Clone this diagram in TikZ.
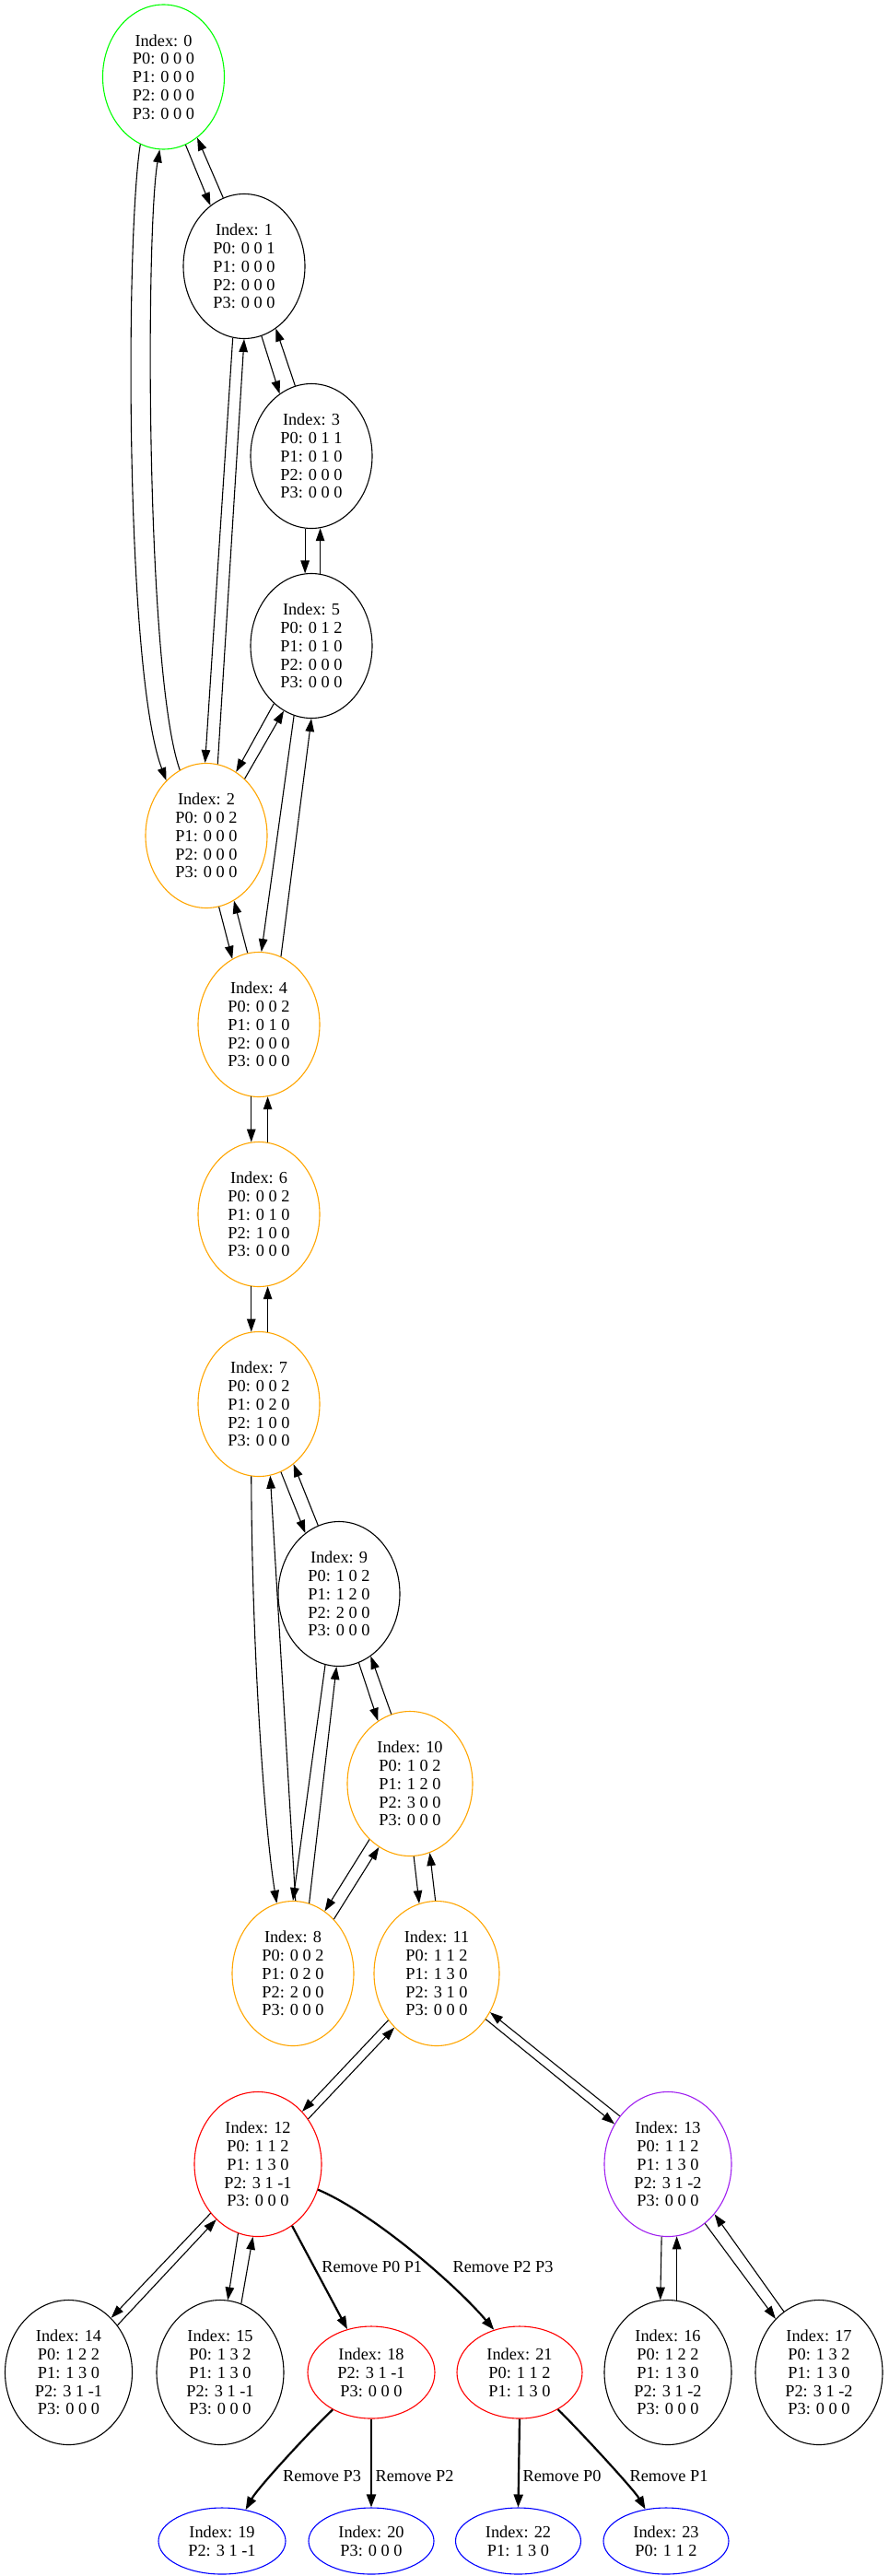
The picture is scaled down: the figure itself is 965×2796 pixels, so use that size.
\documentclass[tikz,border=0pt]{standalone}
\usepackage{fontspec}
\setmainfont{Liberation Serif}
\usetikzlibrary{shapes.geometric,arrows.meta}
\definecolor{gvgreen}{RGB}{0,255,0}
\definecolor{gvorange}{RGB}{255,165,0}
\definecolor{gvred}{RGB}{255,0,0}
\definecolor{gvpurple}{RGB}{160,32,240}
\definecolor{gvblue}{RGB}{0,0,255}
\newcommand\gvfont{\fontsize{18.3pt}{19.8pt}\selectfont}
\begin{document}
\begin{tikzpicture}[x=1pt,y=-1pt,
  st/.style={ellipse, draw, line width=1.1pt, inner sep=0pt, align=center, font=\gvfont,
             minimum width=132pt, minimum height=157pt},
  wide/.style={minimum width=138pt},
  mid/.style={minimum width=136pt},
  three/.style={minimum height=100pt},
  two/.style={minimum height=72pt},
  e/.style={-{Triangle[length=14pt,width=9.5pt]}, line width=1.1pt},
  be/.style={-{Triangle[length=14pt,width=10pt]}, line width=2.2pt},
  lbl/.style={font=\gvfont, inner sep=0pt}]
\useasboundingbox (0,0) rectangle (965,2796);

\node[st, draw=gvgreen] (n0) at (177.5,83.5) {Index: 0\\P0: 0 0 0\\P1: 0 0 0\\P2: 0 0 0\\P3: 0 0 0};
\node[st] (n1) at (265,289) {Index: 1\\P0: 0 0 1\\P1: 0 0 0\\P2: 0 0 0\\P3: 0 0 0};
\node[st] (n3) at (338,495) {Index: 3\\P0: 0 1 1\\P1: 0 1 0\\P2: 0 0 0\\P3: 0 0 0};
\node[st] (n5) at (338,701) {Index: 5\\P0: 0 1 2\\P1: 0 1 0\\P2: 0 0 0\\P3: 0 0 0};
\node[st, draw=gvorange] (n2) at (224,907) {Index: 2\\P0: 0 0 2\\P1: 0 0 0\\P2: 0 0 0\\P3: 0 0 0};
\node[st, draw=gvorange] (n4) at (281,1112) {Index: 4\\P0: 0 0 2\\P1: 0 1 0\\P2: 0 0 0\\P3: 0 0 0};
\node[st, draw=gvorange] (n6) at (281,1318) {Index: 6\\P0: 0 0 2\\P1: 0 1 0\\P2: 1 0 0\\P3: 0 0 0};
\node[st, draw=gvorange] (n7) at (281,1524) {Index: 7\\P0: 0 0 2\\P1: 0 2 0\\P2: 1 0 0\\P3: 0 0 0};
\node[st] (n9) at (368,1730) {Index: 9\\P0: 1 0 2\\P1: 1 2 0\\P2: 2 0 0\\P3: 0 0 0};
\node[st, mid, draw=gvorange] (n10) at (445,1936) {Index: 10\\P0: 1 0 2\\P1: 1 2 0\\P2: 3 0 0\\P3: 0 0 0};
\node[st, draw=gvorange] (n8) at (318,2142) {Index: 8\\P0: 0 0 2\\P1: 0 2 0\\P2: 2 0 0\\P3: 0 0 0};
\node[st, mid, draw=gvorange] (n11) at (474,2142) {Index: 11\\P0: 1 1 2\\P1: 1 3 0\\P2: 3 1 0\\P3: 0 0 0};
\node[st, wide, draw=gvred] (n12) at (280,2349) {Index: 12\\P0: 1 1 2\\P1: 1 3 0\\P2: 3 1 -1\\P3: 0 0 0};
\node[st, wide, draw=gvpurple] (n13) at (725,2349) {Index: 13\\P0: 1 1 2\\P1: 1 3 0\\P2: 3 1 -2\\P3: 0 0 0};
\node[st, wide] (n14) at (74.5,2575) {Index: 14\\P0: 1 2 2\\P1: 1 3 0\\P2: 3 1 -1\\P3: 0 0 0};
\node[st, wide] (n15) at (239,2575) {Index: 15\\P0: 1 3 2\\P1: 1 3 0\\P2: 3 1 -1\\P3: 0 0 0};
\node[st, wide, three, draw=gvred] (n18) at (403,2575) {Index: 18\\P2: 3 1 -1\\P3: 0 0 0};
\node[st, mid, three, draw=gvred] (n21) at (564,2575) {Index: 21\\P0: 1 1 2\\P1: 1 3 0};
\node[st, wide] (n16) at (725,2575) {Index: 16\\P0: 1 2 2\\P1: 1 3 0\\P2: 3 1 -2\\P3: 0 0 0};
\node[st, wide] (n17) at (889,2575) {Index: 17\\P0: 1 3 2\\P1: 1 3 0\\P2: 3 1 -2\\P3: 0 0 0};
\node[st, wide, two, draw=gvblue] (n19) at (241,2758) {Index: 19\\P2: 3 1 -1};
\node[st, mid, two, draw=gvblue] (n20) at (403,2758) {Index: 20\\P3: 0 0 0};
\node[st, mid, two, draw=gvblue] (n22) at (562.5,2758) {Index: 22\\P1: 1 3 0};
\node[st, mid, two, draw=gvblue] (n23) at (723,2758) {Index: 23\\P0: 1 1 2};

\draw[e] (n0.-72) -- (n1.119.5);
\draw[e] (n1.107.5) -- (n0.-61);
\draw[e] (n0.-109) .. controls (136,260) and (136,730) .. (n2.126.6);
\draw[e] (n2.112.6) .. controls (158,730) and (158,250) .. (n0.-93.4);
\draw[e] (n1.-76.7) -- (n3.117);
\draw[e] (n3.103.4) -- (n1.-63.8);
\draw[e] (n1.-99.2) -- (n2.91);
\draw[e] (n2.81.5) -- (n1.-90);
\draw[e] (n3.-95.4) -- (n5.95.5);
\draw[e] (n5.83) -- (n3.-83);
\draw[e] (n5.-123.6) -- (n2.65.4);
\draw[e] (n2.56) -- (n5.-113.6);
\draw[e] (n5.-104.4) -- (n4.88.5);
\draw[e] (n4.72.2) -- (n5.-90);
\draw[e] (n2.-80.4) -- (n4.112.6);
\draw[e] (n4.99.3) -- (n2.-67.1);
\draw[e] (n4.-96) -- (n6.96);
\draw[e] (n6.83) -- (n4.-83);
\draw[e] (n6.-96) -- (n7.96);
\draw[e] (n7.83) -- (n6.-83);
\draw[e] (n7.-72.7) -- (n9.119);
\draw[e] (n9.107.2) -- (n7.-60.1);
\draw[e] (n7.-96.1) .. controls (273.5,1800) and (288,1990) .. (n8.103.4);
\draw[e] (n8.88) -- (n7.-81.3);
\draw[e] (n9.-101.9) -- (n8.90);
\draw[e] (n8.77.5) -- (n9.-92.3);
\draw[e] (n9.-74.6) -- (n10.117.3);
\draw[e] (n10.105) -- (n9.-63);
\draw[e] (n10.-126.9) -- (n8.63.3);
\draw[e] (n8.53.3) -- (n10.-116.3);
\draw[e] (n10.-87.8) -- (n11.104.6);
\draw[e] (n11.91) -- (n10.-74.6);
\draw[e] (n11.-136.7) -- (n12.50.3);
\draw[e] (n12.42.2) -- (n11.-128.4);
\draw[e] (n11.-43.3) -- (n13.143.3);
\draw[e] (n13.135.2) -- (n11.-36.3);
\draw[e] (n12.-134.9) -- (n14.52.1);
\draw[e] (n14.44.2) -- (n12.-127.6);
\draw[e] (n12.-106.7) -- (n15.84.8);
\draw[e] (n15.73.4) -- (n12.-94.5);
\draw[e] (n13.-95.9) -- (n16.96);
\draw[e] (n16.83.9) -- (n13.-83.9);
\draw[e] (n13.-58) -- (n17.129.7);
\draw[e] (n17.120.9) -- (n13.-47.8);

\draw[be] (n12.-61.8) -- (n18.119.2) node[lbl] at (403.7,2460.7) {Remove P0 P1};
\draw[be] (n12.-23.6) .. controls (405,2402) and (495,2480) .. (n21.121) node[lbl] at (546,2460.7) {Remove P2 P3};
\draw[be] (n18.-136.6) .. controls (338,2637) and (280,2700) .. (n19.53.1) node[lbl] at (349.5,2687.5) {Remove P3};
\draw[be] (n18.-90) -- (n20.90) node[lbl] at (450,2687.5) {Remove P2};
\draw[be] (n21.-90) -- (n22.90) node[lbl] at (610,2687.5) {Remove P0};
\draw[be] (n21.-44) .. controls (628,2637) and (688,2702) .. (n23.123.1) node[lbl] at (726,2687.5) {Remove P1};
\end{tikzpicture}
\end{document}
